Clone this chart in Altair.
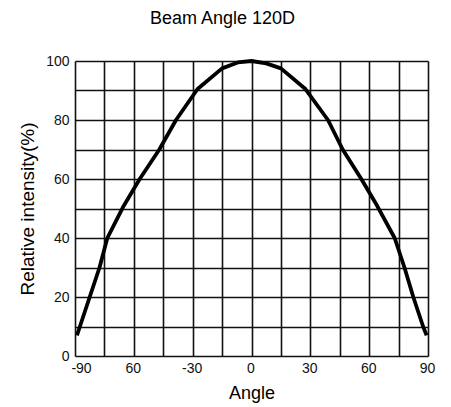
import altair as alt
import pandas as pd

angles = [-89, -87.5, -82.5, -77.5, -73.5, -65.5, -57, -47, -38.5, -27.5, -15, -7, 0,
          7.5, 15, 27.5, 39, 46.5, 56, 64, 73, 78, 82.5, 87.5, 89.3]
intensity = [7, 10, 20, 30, 40, 50.5, 60, 70, 80, 90.5, 97.5, 99.5, 100,
             99.2, 97.5, 90.5, 80, 70, 60, 51, 40, 30, 20, 10, 7]
x_ticks = [-90, -75, -60, -45, -30, -15, 0, 15, 30, 45, 60, 75, 90]
y_ticks = [0, 10, 20, 30, 40, 50, 60, 70, 80, 90, 100]

df = pd.DataFrame({"angle": angles, "intensity": intensity})

FONT = "Liberation Sans"

chart = alt.Chart(df).mark_line(color="black", strokeWidth=3.8, strokeJoin="round").encode(
    x=alt.X("angle:Q",
            scale=alt.Scale(domain=[-90, 90], nice=False, zero=False),
            axis=alt.Axis(values=x_ticks, title="Angle", grid=True, domain=False, ticks=False,
                          labelExpr="datum.value == -60 ? '60' : (datum.value % 30 == 0 ? '' + datum.value : '')",
                          labelFont=FONT, labelFontSize=14, labelColor="#111", labelPadding=5,
                          labelOffset={"condition": {"test": "datum.value == -90", "value": 6}, "value": -1},
                          labelFlush=False, labelOverlap=False,
                          titleFont=FONT, titleFontSize=18, titleFontWeight="normal", titleColor="black",
                          titleX=176.5, titleY=42, titleBaseline="alphabetic", titleAlign="center",
                          gridColor="#111", gridWidth=1.6, gridOpacity=1)),
    y=alt.Y("intensity:Q",
            scale=alt.Scale(domain=[0, 100], nice=False, zero=False),
            axis=alt.Axis(values=y_ticks, title="Relative intensity(%)", grid=True, domain=False, ticks=False,
                          labelExpr="datum.value % 20 == 0 ? '' + datum.value : ''",
                          labelFont=FONT, labelFontSize=14, labelColor="#111", labelPadding=6,
                          labelOverlap=False,
                          titleFont=FONT, titleFontSize=19, titleFontWeight="normal", titleColor="black",
                          titleAngle=270, titleX=-42, titleY=147.5, titleBaseline="alphabetic", titleAlign="center",
                          gridColor="#111", gridWidth=1.6, gridOpacity=1)),
).properties(
    width=353, height=295,
    title=alt.TitleParams("Beam Angle 120D", font=FONT, fontSize=18, fontWeight="normal", color="black",
                          anchor="middle", frame="group", dx=-29, offset=26),
    autosize=alt.AutoSizeParams(type="none"),
    padding={"left": 67, "top": 53, "right": 15, "bottom": 48},
).configure_view(stroke="black", strokeWidth=2).configure(background="white")

chart.save("out.html", embed_options={"renderer": "svg", "actions": False})
